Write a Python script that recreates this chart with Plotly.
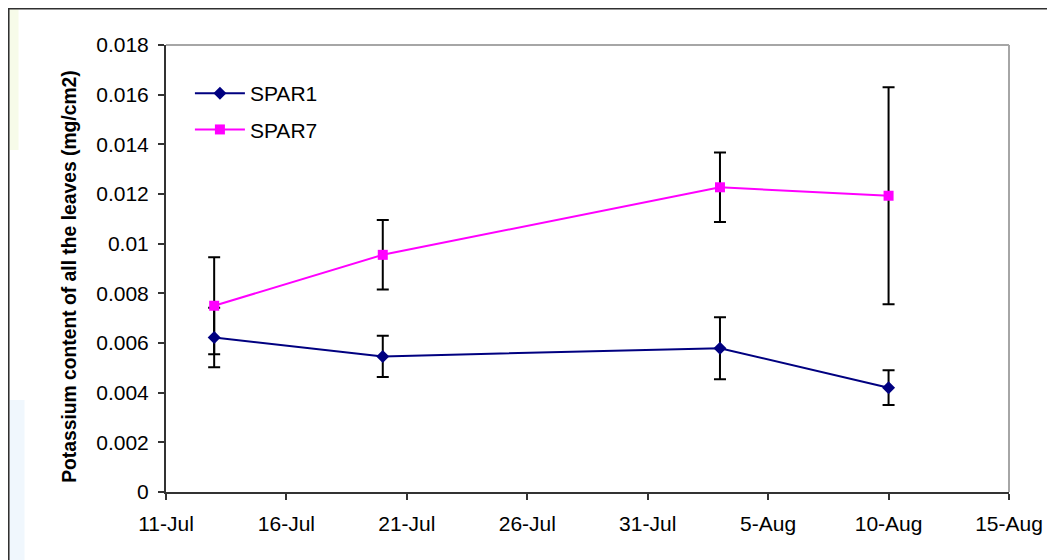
"""Potassium content of leaves, SPAR1 vs SPAR7, with error bars."""

import pandas as pd
import plotly.graph_objects as go

# sample dates
dates = pd.to_datetime(["2007-07-13", "2007-07-20", "2007-08-03", "2007-08-10"])

# SPAR1 means and errors (mg/cm2)
spar1 = [0.00622, 0.00546, 0.00579, 0.00420]
spar1_err = [0.00120, 0.00083, 0.00125, 0.00070]

# SPAR7 means and errors (mg/cm2)
spar7 = [0.00750, 0.00955, 0.01227, 0.01193]
spar7_err = [0.00195, 0.00140, 0.00140, 0.00437]

y_ticks = [0, 0.002, 0.004, 0.006, 0.008, 0.01, 0.012, 0.014, 0.016, 0.018]

# page body has an 8px margin, so the figure is 8px smaller than the window
OFF = 8
W, H = 1055 - OFF, 560 - OFF
ML, MR, MT, MB = 166 - OFF, 43, 45 - OFF, 68
PW, PH = W - ML - MR, H - MT - MB


def px(x):
    # window pixel -> paper x
    return (x - OFF - ML) / PW


def py(y):
    # window pixel -> paper y
    return (H - MB - (y - OFF)) / PH


fig = go.Figure()

# error bars first so both series' markers sit on top of them
for vals, errs in [(spar1, spar1_err), (spar7, spar7_err)]:
    fig.add_trace(
        go.Scatter(
            x=dates,
            y=vals,
            mode="markers",
            marker=dict(size=1, color="rgba(0,0,0,0)"),
            error_y=dict(type="data", array=errs, color="black", thickness=2, width=6),
            showlegend=False,
            hoverinfo="skip",
        )
    )

fig.add_trace(
    go.Scatter(
        x=dates,
        y=spar1,
        name="SPAR1",
        mode="lines+markers",
        line=dict(color="#000080", width=2),
        marker=dict(symbol="diamond", size=10, color="#000080"),
        legendgroup="a",
    )
)
fig.add_trace(
    go.Scatter(
        x=dates,
        y=spar7,
        name="SPAR7",
        mode="lines+markers",
        line=dict(color="#FF00FF", width=2),
        marker=dict(symbol="square", size=10, color="#FF00FF"),
        legendgroup="b",
    )
)

shapes = [
    # faint slide background decoration at the left edge
    dict(type="rect", xref="paper", yref="paper", x0=px(9), x1=px(18), y0=py(150), y1=py(9),
         fillcolor="#f7fbe9", line=dict(width=0), layer="below"),
    dict(type="rect", xref="paper", yref="paper", x0=px(9), x1=px(24), y0=py(560), y1=py(400),
         fillcolor="#f0f7fd", line=dict(width=0), layer="below"),
    # outer chart frame
    dict(type="rect", xref="paper", yref="paper", x0=px(8), x1=px(1070), y0=py(575), y1=py(8.5),
         line=dict(color="#303030", width=2), fillcolor="rgba(0,0,0,0)"),
    # gray plot-area border on top and right
    dict(type="line", xref="paper", yref="paper", x0=0, x1=1, y0=1, y1=1,
         line=dict(color="#a6a6a6", width=2)),
    dict(type="line", xref="paper", yref="paper", x0=1, x1=1, y0=0, y1=1,
         line=dict(color="#a6a6a6", width=2)),
]

fig.update_layout(
    width=W,
    height=H,
    margin=dict(l=ML, r=MR, t=MT, b=MB),
    paper_bgcolor="white",
    plot_bgcolor="white",
    font=dict(family="Liberation Sans, Arial, sans-serif", size=21, color="black"),
    shapes=shapes,
    legend=dict(
        x=px(190),
        y=py(73),
        xanchor="left",
        yanchor="top",
        bgcolor="rgba(0,0,0,0)",
        font=dict(size=21),
        traceorder="grouped",
        tracegroupgap=6,
        itemwidth=50,
    ),
    annotations=[
        dict(
            text="<b>Potassium content of all the leaves (mg/cm2)</b>",
            xref="paper",
            yref="paper",
            x=px(69),
            y=py(276.5),
            xanchor="center",
            yanchor="middle",
            textangle=-90,
            showarrow=False,
            font=dict(size=19.3),
        )
    ],
    showlegend=True,
)

fig.update_xaxes(
    type="date",
    range=["2007-07-11", "2007-08-15"],
    tick0="2007-07-11",
    dtick=5 * 86400000,
    tickformat="%-d-%b",
    showgrid=False,
    zeroline=False,
    showline=True,
    linecolor="#333333",
    linewidth=2,
    ticks="outside",
    ticklen=6,
    tickwidth=1.5,
    tickcolor="#333333",
    ticklabelstandoff=6,
)
fig.update_yaxes(
    range=[0, 0.018],
    tickvals=y_ticks,
    showgrid=False,
    zeroline=False,
    showline=True,
    linecolor="#333333",
    linewidth=2,
    ticks="outside",
    ticklen=6,
    tickwidth=1.5,
    tickcolor="#333333",
    ticklabelstandoff=5,
)

fig.write_html("out.html")
